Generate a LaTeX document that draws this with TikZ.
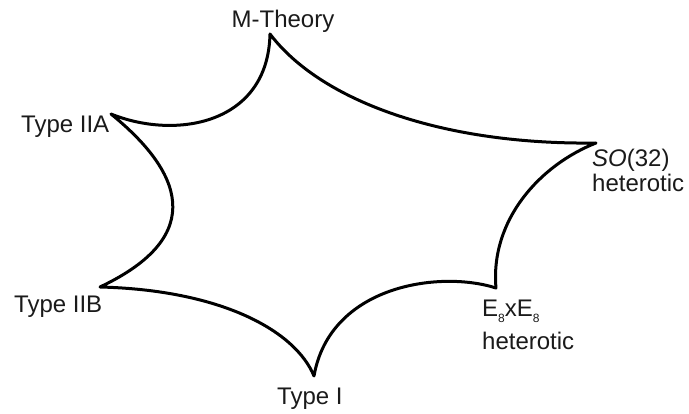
\documentclass[tikz,border=0pt]{standalone}
\usepackage{fontspec}
\setmainfont{Liberation Sans}
\definecolor{stLine}{HTML}{000000}
\definecolor{stText}{HTML}{1A1A1A}
\newcommand{\lowsub}[1]{\raisebox{-6pt}{\fontsize{12}{12}\selectfont #1}}
\tikzset{
  stlabel/.style={inner sep=0pt, font=\fontsize{24}{25}\selectfont, text=stText, align=left},
  moduli/.style={draw=stLine, line width=3pt, line join=round, line cap=round}
}

\begin{document}
\begin{tikzpicture}[x=1pt, y=-1pt]
  \useasboundingbox (0,0) rectangle (689,414);
  % cusps of the moduli space
  \coordinate (mth) at (270,34);
  \coordinate (so) at (596,143);
  \coordinate (ee) at (496,288);
  \coordinate (ti) at (314,376);
  \coordinate (iib) at (100,287);
  \coordinate (iia) at (111,114);
  \draw[moduli] (mth) .. controls (320,100) and (440,145) .. (so)
    .. controls (540,165) and (490,220) .. (ee)
    .. controls (440,270) and (330,285) .. (ti)
    .. controls (295,330) and (220,290) .. (iib)
    .. controls (210,235) and (180,170) .. (iia)
    .. controls (175,140) and (268,125) .. (mth) -- cycle;
  % labels
  \node[stlabel, anchor=base] (mthl) at (283,28) {M-Theory};
  \node[stlabel, anchor=base west] (iial) at (21,133) {Type IIA};
  \node[stlabel, anchor=base west] (iibl) at (14,313) {Type IIB};
  \node[stlabel, anchor=base west] (til) at (277,405) {Type I};
  \node[stlabel, anchor=base west] (eel) at (482,350) {E\lowsub{8}xE\lowsub{8}\\[8pt]heterotic};
  \node[stlabel, anchor=base west] (sol) at (592,192) {\textit{SO}(32)\\heterotic};
\end{tikzpicture}
\end{document}
